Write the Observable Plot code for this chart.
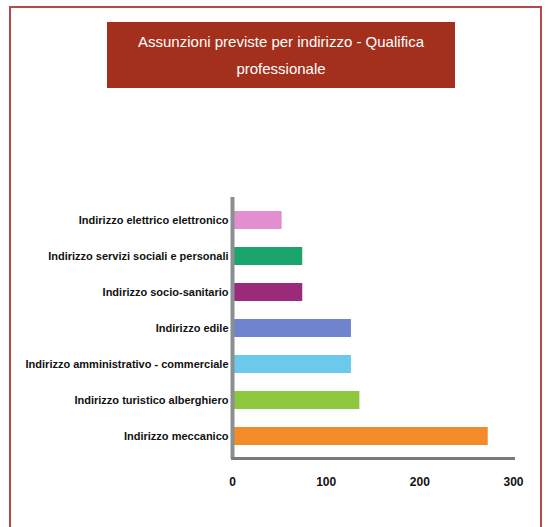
<!DOCTYPE html>
<html>
<head>
<meta charset="utf-8">
<script src="https://cdn.jsdelivr.net/npm/d3@7"></script>
<script src="https://cdn.jsdelivr.net/npm/@observablehq/plot@0.6"></script>
<style>
  body { margin: 0; background: #fff; font-family: "Liberation Sans", Arial, sans-serif; }
  #wrap { position: relative; width: 549px; height: 527px; overflow: hidden; }
  #border { position: absolute; left: 9px; top: 6px; width: 533px; height: 540px;
            border: 2px solid #b94848; box-sizing: border-box; }
  #title { position: absolute; left: 107px; top: 22px; width: 348px; height: 66px;
           background: #a3301c; color: #fff; font-size: 15px; line-height: 27px;
           text-align: center; display: flex; align-items: center; justify-content: center;
           padding: 0 10px; box-sizing: border-box; }
  #chart { position: absolute; left: 0; top: 0; }
</style>
</head>
<body>
<div id="wrap">
  <div id="border"></div>
  <div id="chart"></div>
  <div id="title">Assunzioni previste per indirizzo - Qualifica professionale</div>
</div>
<script>
const categories = [
  "Indirizzo elettrico elettronico",
  "Indirizzo servizi sociali e personali",
  "Indirizzo socio-sanitario",
  "Indirizzo edile",
  "Indirizzo amministrativo - commerciale",
  "Indirizzo turistico alberghiero",
  "Indirizzo meccanico"
];
const values = [53, 75, 75, 127, 127, 136, 273];
const colors = ["#e38fcf", "#1ba56c", "#9b2b7a", "#7083cd", "#6dc9ec", "#8dc63f", "#f38b2b"];
const xTicks = [0, 100, 200, 300];

const data = categories.map((c, i) => ({category: c, value: values[i], color: colors[i]}));

const plot = Plot.plot({
  width: 549,
  height: 527,
  marginLeft: 232,
  marginRight: 36,
  marginTop: 197,
  marginBottom: 69,
  style: {fontFamily: "Liberation Sans, Arial, sans-serif", background: "transparent"},
  x: {domain: [0, 300], ticks: xTicks, label: null},
  y: {domain: categories, paddingInner: 0.5, paddingOuter: 0.3, label: null},
  marks: [
    Plot.barX(data, {y: "category", x: "value", fill: "color"}),
    Plot.ruleX([0], {stroke: "#8a9090", strokeWidth: 4}),
    Plot.frame({anchor: "bottom", stroke: "#7a7a7a", strokeWidth: 3}),
    Plot.axisY({tickSize: 0, tickPadding: 4, fontSize: 11, fontWeight: "bold", fill: "#111"}),
    Plot.axisX({ticks: xTicks, tickSize: 0, tickPadding: 19, fontSize: 12, fontWeight: "bold", fill: "#111"})
  ]
});
document.getElementById("chart").appendChild(plot);
</script>
</body>
</html>
